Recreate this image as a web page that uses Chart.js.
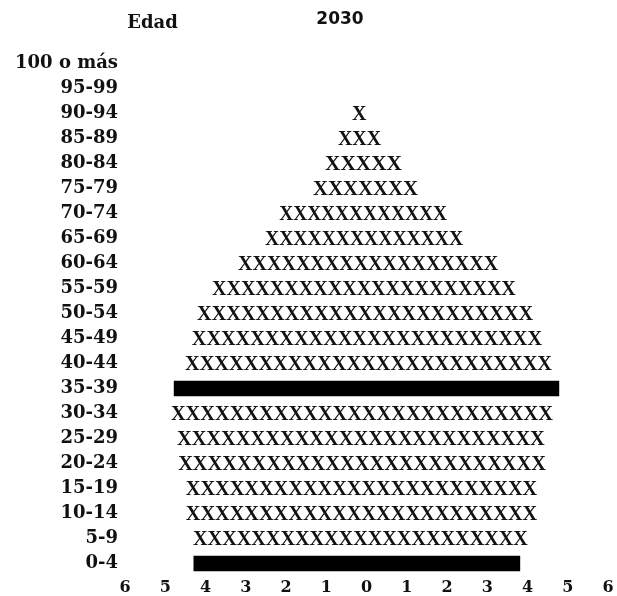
<!DOCTYPE html>
<html>
<head>
<meta charset="utf-8">
<script src="https://cdn.jsdelivr.net/npm/chart.js@4.4.1/dist/chart.umd.min.js"></script>
<style>
  html, body { margin: 0; padding: 0; background: #ffffff; }
  #wrap { width: 617px; height: 596px; position: relative; }
</style>
</head>
<body>
<div id="wrap"><canvas id="c" width="617" height="596"></canvas></div>
<script>
// ---- Data ----
const titleText = '2030';
const axisTitle = 'Edad';
const ageGroups = ['100 o más', '95-99', '90-94', '85-89', '80-84', '75-79', '70-74', '65-69',
  '60-64', '55-59', '50-54', '45-49', '40-44', '35-39', '30-34', '25-29', '20-24',
  '15-19', '10-14', '5-9', '0-4'];
// extent to the left of 0 (shown as positive numbers on the axis)
const leftValues = [0, 0, 0.36, 0.71, 1.03, 1.33, 2.17, 2.52, 3.19, 3.84, 4.21, 4.34, 4.51,
  4.78, 4.86, 4.71, 4.68, 4.49, 4.49, 4.31, 4.29];
// extent to the right of 0
const rightValues = [0, 0, 0.0, 0.36, 0.88, 1.28, 2.00, 2.40, 3.27, 3.71, 4.14, 4.36, 4.61,
  4.78, 4.63, 4.43, 4.46, 4.24, 4.24, 4.01, 3.81];
// rows printed as a solid black bar instead of a line of X characters
const solidRows = ['35-39', '0-4'];
const xTickValues = [-6, -5, -4, -3, -2, -1, 0, 1, 2, 3, 4, 5, 6];

// ---- Build datasets ----
const xRowData = ageGroups.map((g, i) =>
  (solidRows.includes(g) || (leftValues[i] === 0 && rightValues[i] === 0)) ? null : [-leftValues[i], rightValues[i]]);
const solidRowData = ageGroups.map((g, i) =>
  solidRows.includes(g) ? [-leftValues[i], rightValues[i]] : null);

const X_FONT_PX = 20;
const xCharsPlugin = {
  id: 'xChars',
  afterDatasetsDraw(chart) {
    const meta = chart.getDatasetMeta(0);
    const ctx = chart.ctx;
    ctx.save();
    ctx.fillStyle = '#111';
    ctx.font = 'bold ' + X_FONT_PX + 'px "Liberation Serif", "Times New Roman", serif';
    ctx.textAlign = 'center';
    ctx.textBaseline = 'alphabetic';
    const adv = ctx.measureText('X').width;
    const capH = X_FONT_PX * 0.662;
    meta.data.forEach((bar, i) => {
      if (!xRowData[i]) return;
      const p = bar.getProps(['x', 'base', 'y'], true);
      const xl = Math.min(p.x, p.base), xr = Math.max(p.x, p.base);
      const n = Math.max(1, Math.round((xr - xl) / adv));
      const slot = (xr - xl) / n;
      for (let k = 0; k < n; k++) {
        const cx = xl + slot * (k + 0.5);
        ctx.save();
        ctx.translate(cx, p.y + capH / 2);
        ctx.scale(slot / adv, 1);
        ctx.fillText('X', 0, 0);
        ctx.restore();
      }
    });
    ctx.restore();
  }
};

const titlesPlugin = {
  id: 'titles',
  afterDraw(chart) {
    const ctx = chart.ctx;
    ctx.save();
    ctx.fillStyle = '#111';
    ctx.textAlign = 'center';
    ctx.textBaseline = 'middle';
    ctx.font = 'bold 18px "DejaVu Serif", serif';
    ctx.fillText(axisTitle, 152.5, 23);
    ctx.font = 'bold 17px "DejaVu Sans", sans-serif';
    ctx.fillText(titleText, 340, 20);
    ctx.restore();
  }
};

new Chart(document.getElementById('c'), {
  type: 'bar',
  data: {
    labels: ageGroups,
    datasets: [
      { data: xRowData, backgroundColor: 'rgba(0,0,0,0)', borderWidth: 0, barThickness: 15, clip: false },
      { data: solidRowData, backgroundColor: '#000000', borderWidth: 0, barThickness: 15, clip: false }
    ]
  },
  options: {
    responsive: false,
    animation: false,
    indexAxis: 'y',
    grouped: false,
    layout: { padding: { left: 0, right: 9, top: 63.5, bottom: 0 } },
    plugins: { legend: { display: false }, tooltip: { enabled: false }, title: { display: false } },
    scales: {
      x: {
        type: 'linear',
        min: -6, max: 6,
        afterBuildTicks(scale) { scale.ticks = xTickValues.map(v => ({ value: v })); },
        afterFit(scale) { scale.height = 32.5; scale.paddingLeft = 0; scale.paddingRight = 0; },
        grid: { display: false, drawTicks: false },
        border: { display: false },
        ticks: {
          padding: 15,
          color: '#111',
          maxRotation: 0,
          autoSkip: false,
          font: { family: '"DejaVu Serif", serif', size: 16, weight: 'bold' },
          callback: (v) => String(Math.abs(v))
        }
      },
      y: {
        type: 'category',
        offset: false,
        afterFit(scale) { scale.width = 125; scale.paddingTop = 0; scale.paddingBottom = 0; },
        grid: { display: false, drawTicks: false },
        border: { display: false },
        ticks: {
          padding: 7,
          color: '#111',
          autoSkip: false,
          font: { family: '"DejaVu Serif", serif', size: 18, weight: 'bold' }
        }
      }
    }
  },
  plugins: [xCharsPlugin, titlesPlugin]
});
</script>
</body>
</html>
